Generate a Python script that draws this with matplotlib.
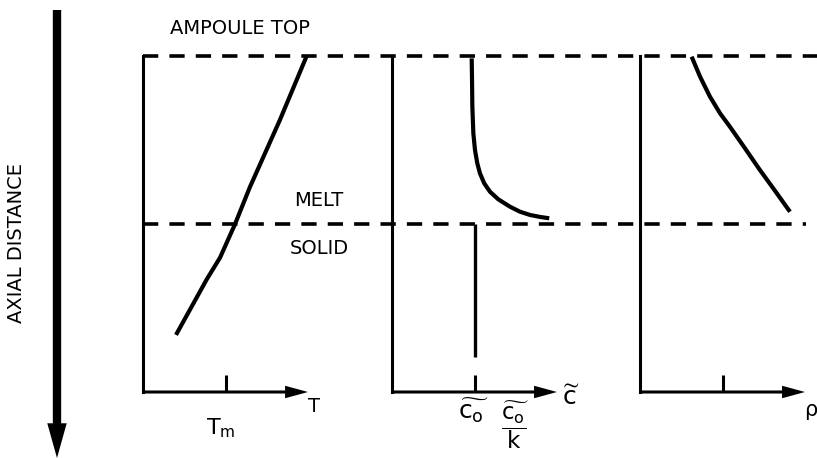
import matplotlib
matplotlib.use("Agg")
from matplotlib import pyplot as plt

# axial distance z: 0 = ampoule top, 1 = melt/solid interface (increasing downward)
z_top = 0.0
z_interface = 1.0
z_bottom = 2.0

# temperature profile
z_T = [0.0, 0.38, 0.78, 1.0, 1.2, 1.33, 1.66]
T = [0.992, 0.830, 0.648, 0.558, 0.467, 0.386, 0.200]
T_m = 0.5

# concentration profile (melt and solid)
z_c_melt = [0.014, 0.143, 0.302, 0.460, 0.560, 0.639, 0.698, 0.758, 0.808,
            0.853, 0.897, 0.927, 0.946, 0.958, 0.966]
c_melt = [0.483, 0.485, 0.487, 0.493, 0.503, 0.517, 0.533, 0.559, 0.594,
          0.644, 0.715, 0.776, 0.836, 0.897, 0.953]
z_c_solid = [1.0, 1.79]
c_solid = [0.5, 0.5]
c_0 = 0.5

# density profile
z_rho = [0.004, 0.123, 0.242, 0.341, 0.421, 0.549, 0.679, 0.802, 0.927]
rho = [0.313, 0.364, 0.424, 0.485, 0.545, 0.636, 0.727, 0.818, 0.909]
rho_tick = 0.5

plt.rcParams["lines.scale_dashes"] = False
plt.rcParams["mathtext.fontset"] = "dejavusans"

W, H = 817, 458
fig = plt.figure(figsize=(W / 100, H / 100), dpi=100)

lefts = [143, 392, 640]
pw = 165
ax_bot = (H - 392) / H
ax_h = 336 / H
axes = [fig.add_axes([l / W, ax_bot, pw / W, ax_h]) for l in lefts]

for ax, tick in zip(axes, [T_m, c_0, rho_tick]):
    ax.set_xlim(0, 1)
    ax.set_ylim(z_bottom, z_top)
    ax.patch.set_visible(False)
    for s in ["top", "right", "bottom"]:
        ax.spines[s].set_visible(False)
    ax.spines["left"].set_linewidth(2.2)
    ax.set_yticks([])
    ax.set_xticks([tick])
    ax.tick_params(axis="x", direction="in", length=12, width=2.2,
                   labelbottom=False)
    ax.annotate("", xy=(1.0, z_bottom), xytext=(0.0, z_bottom),
                arrowprops=dict(arrowstyle="simple,head_length=1.65,head_width=0.9,tail_width=0.22",
                                fc="black", ec="none", lw=0,
                                shrinkA=0, shrinkB=0, mutation_scale=10),
                annotation_clip=False)

ax1, ax2, ax3 = axes

# dashed level lines across all panels
ax1.axhline(z_top, xmin=0, xmax=(W - 143) / pw, color="black", lw=2.6,
            dashes=(11, 8), clip_on=False)
ax1.axhline(z_interface, xmin=0, xmax=(806 - 143) / pw, color="black", lw=2.6,
            dashes=(11, 8), clip_on=False)

ax1.plot(T, z_T, color="black", lw=3, solid_capstyle="butt",
         solid_joinstyle="round", clip_on=False)
ax2.plot(c_melt, z_c_melt, color="black", lw=3, solid_capstyle="butt",
         solid_joinstyle="round", clip_on=False)
ax2.plot(c_solid, z_c_solid, color="black", lw=2.4, solid_capstyle="butt", clip_on=False)
ax3.plot(rho, z_rho, color="black", lw=3, solid_capstyle="butt",
         solid_joinstyle="round", clip_on=False)

# big axial-distance arrow
ax1.annotate("", xy=(57 / W, 0.0), xycoords="figure fraction",
             xytext=(57 / W, 1 - 10 / H), textcoords="figure fraction",
             arrowprops=dict(arrowstyle="simple,head_length=2.5,head_width=1.4,tail_width=0.6",
                             fc="black", ec="none", lw=0,
                             shrinkA=0, shrinkB=0, mutation_scale=10),
             annotation_clip=False)

def ftext(x, y, s, size=14, **kw):
    fig.text(x / W, 1 - y / H, s, ha="center", va="center", fontsize=size, **kw)

ftext(240, 29, "AMPOULE TOP")
ftext(319, 200, "MELT")
ftext(319, 249, "SOLID")
ftext(17, 243, "AXIAL DISTANCE", rotation=90)
ftext(314, 407, "T")
ftext(221, 428, r"$\mathregular{T_m}$", size=16)
ftext(571, 398, r"$\widetilde{\mathregular{c}}$", size=18)
ftext(473, 411, r"$\widetilde{\mathregular{c_o}}$", size=18)
ftext(515, 425, r"$\dfrac{\widetilde{\mathregular{c_o}}}{\mathregular{k}}$", size=16.5)
ftext(811, 410, "ρ", size=15)

fig.savefig("out.png", dpi=100)
